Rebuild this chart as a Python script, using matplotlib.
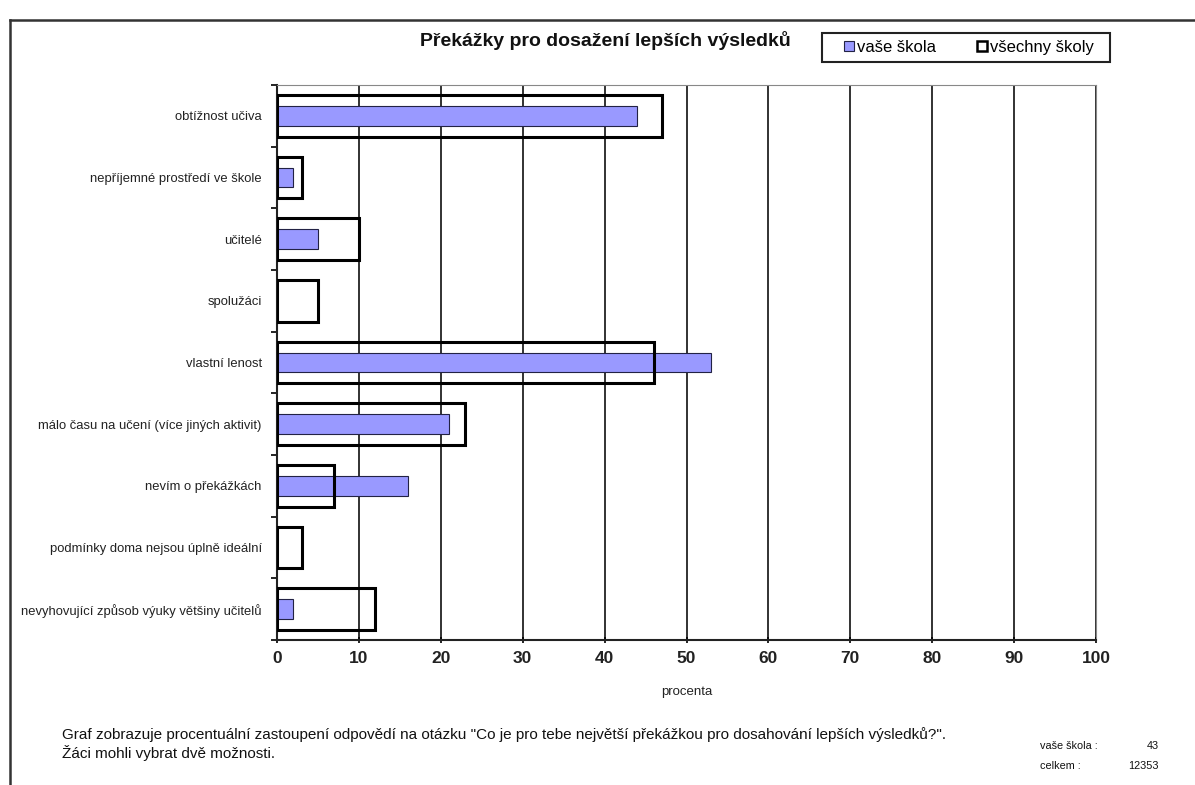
import matplotlib
matplotlib.use("Agg")
import matplotlib.pyplot as plt
from matplotlib.patches import Patch, Rectangle
import numpy as np

plt.rcParams['font.family'] = ['Liberation Sans', 'DejaVu Sans']

categories = [
    "obtížnost učiva",
    "nepříjemné prostředí ve škole",
    "učitelé",
    "spolužáci",
    "vlastní lenost",
    "málo času na učení (více jiných aktivit)",
    "nevím o překážkách",
    "podmínky doma nejsou úplně ideální",
    "nevyhovující způsob výuky většiny učitelů",
]
vase_skola = [44, 2, 5, 0, 53, 21, 16, 0, 2]
vsechny_skoly = [47, 3, 10, 5, 46, 23, 7, 3, 12]
xticks = [0, 10, 20, 30, 40, 50, 60, 70, 80, 90, 100]

title = "Překážky pro dosažení lepších výsledků"
legend_labels = ["vaše škola", "všechny školy"]
xlabel = "procenta"
note_lines = [
    "Graf zobrazuje procentuální zastoupení odpovědí na otázku \"Co je pro tebe největší překážkou pro dosahování lepších výsledků?\".",
    "Žáci mohli vybrat dvě možnosti.",
]
count_labels = ["vaše škola :", "celkem :"]
count_values = ["43", "12353"]

W, H = 1195, 785
fig = plt.figure(figsize=(W / 100, H / 100), dpi=100)

# outer frame lines
fig.add_artist(plt.Line2D([10 / W, 10 / W], [0, 1 - 20 / H], color='#333333', lw=1.8, transform=fig.transFigure))
fig.add_artist(plt.Line2D([10 / W, 1], [1 - 20 / H, 1 - 20 / H], color='#333333', lw=1.8, transform=fig.transFigure))

x0, x1, ytop, ybot = 277, 1096, 85, 640
ax = fig.add_axes([x0 / W, 1 - ybot / H, (x1 - x0) / W, (ybot - ytop) / H])

n = len(categories)
y = np.arange(n)
ax.barh(y, vase_skola, height=0.32, color='#9999ff', edgecolor='#222244', lw=0.8, zorder=3)
ax.barh(y, vsechny_skoly, height=0.675, facecolor='none', edgecolor='black', lw=2.2, zorder=4)

ax.set_xlim(0, 100)
ax.set_ylim(n - 0.5, -0.5)
ax.set_xticks(xticks)
ax.set_xticklabels([str(v) for v in xticks], fontsize=12.5, fontweight='bold', color='#222222')
ax.set_yticks(np.arange(n + 1) - 0.5, minor=False)
ax.set_yticklabels([])
ax.set_yticks(y, minor=True)
ax.set_yticklabels(categories, minor=True, fontsize=9.4, color='#222222')
ax.tick_params(axis='y', which='minor', length=0, pad=11)
ax.tick_params(axis='y', which='major', length=4, width=1.2, direction='out')
ax.tick_params(axis='x', length=4, width=1.2, direction='inout', pad=6)

ax.grid(axis='x', color='#222222', lw=1.3, zorder=1)
ax.set_axisbelow(True)
for s in ['top', 'right']:
    ax.spines[s].set_color('#888888')
    ax.spines[s].set_linewidth(0.8)
for s in ['left', 'bottom']:
    ax.spines[s].set_color('#222222')
    ax.spines[s].set_linewidth(1.5)

ax.set_xlabel(xlabel, fontsize=9.5, labelpad=14, color='#222222')

fig.text(605 / W, 1 - 40 / H, title, fontsize=14, fontweight='bold', ha='center', va='center', color='#111111')

# legend box
fig.add_artist(Rectangle((822 / W, 1 - 62 / H), (1110 - 822) / W, 29 / H, transform=fig.transFigure,
                         facecolor='white', edgecolor='#222222', lw=1.5, zorder=5))
handles = [Patch(facecolor='#9999ff', edgecolor='#222244', lw=0.8),
           Patch(facecolor='white', edgecolor='black', lw=1.8)]
leg = fig.legend(handles, legend_labels, loc='center', bbox_to_anchor=(969 / W, 1 - 47.5 / H), ncol=2,
                 fontsize=12, frameon=False, handlelength=0.6,
                 handleheight=0.6, handletextpad=0.15, columnspacing=2.5, borderpad=0.2)
leg.set_zorder(6)

fig.text(62 / W, 1 - 735 / H, note_lines[0], fontsize=11, ha='left', va='center', color='#111111')
fig.text(62 / W, 1 - 753 / H, note_lines[1], fontsize=11, ha='left', va='center', color='#111111')

for i, (lab, val) in enumerate(zip(count_labels, count_values)):
    yy = 1 - (746 + 20 * i) / H
    fig.text(1040 / W, yy, lab, fontsize=7.8, ha='left', va='center', color='#111111')
    fig.text(1159 / W, yy, val, fontsize=7.8, ha='right', va='center', color='#111111')

fig.savefig("out.png", dpi=100)
